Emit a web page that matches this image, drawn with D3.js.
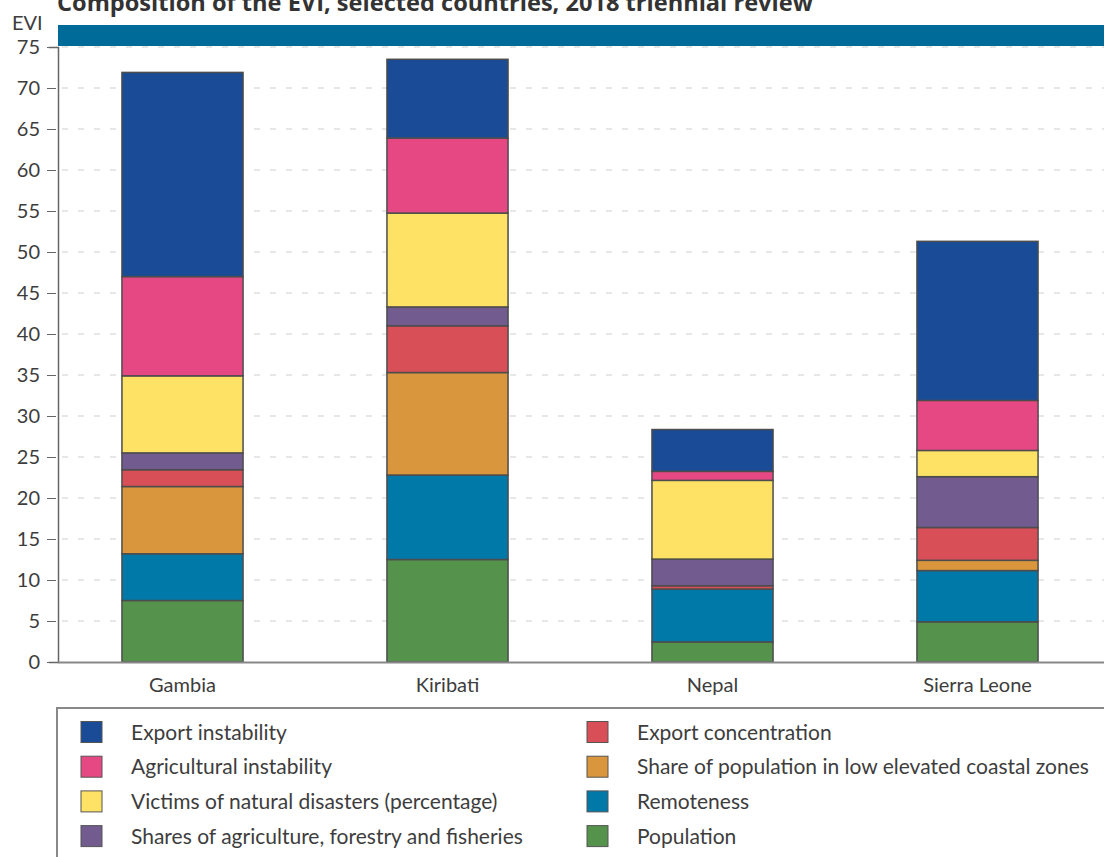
<!DOCTYPE html>
<html lang="en">
<head>
    <style>
        body { margin: 0; background: #fff; }
        svg { width: 1104px; height: 857px; display: block; }
        text { font-family: Lato, "Noto Sans", sans-serif; fill: #3d3d3d; }
    </style>
</head>
<body>
    <svg></svg>
    <script src="https://cdn.jsdelivr.net/npm/d3@7"></script>
    <script>
        // Data
        const countries = ["Gambia", "Kiribati", "Nepal", "Sierra Leone"];
        const components = ["Population", "Remoteness", "Share of population in low elevated coastal zones",
            "Export concentration", "Shares of agriculture, forestry and fisheries",
            "Victims of natural disasters (percentage)", "Agricultural instability", "Export instability"];
        const population     = [7.5, 12.5, 2.45, 4.9];
        const remoteness     = [5.7, 10.3, 6.45, 6.25];
        const coastal        = [8.2, 12.5, 0, 1.25];
        const exportConc     = [2.05, 5.7, 0.4, 4.0];
        const agriShare      = [2.05, 2.3, 3.25, 6.2];
        const victims        = [9.4, 11.45, 9.6, 3.2];
        const agriInstab     = [12.1, 9.15, 1.1, 6.1];
        const exportInstab   = [24.9, 9.6, 5.1, 19.4];
        const yTicks = [0, 5, 10, 15, 20, 25, 30, 35, 40, 45, 50, 55, 60, 65, 70, 75];

        const seriesValues = [population, remoteness, coastal, exportConc, agriShare, victims, agriInstab, exportInstab];
        const colors = ["#55934d", "#0079a9", "#d9963c", "#d94f57", "#715b8f", "#fee265", "#e64884", "#1a4b96"];

        // table for d3.stack
        const table = countries.map((c, i) => {
            const row = { country: c };
            components.forEach((k, j) => { row[k] = seriesValues[j][i]; });
            return row;
        });

        const svg = d3.select("svg");

        const x = d3.scaleBand().domain(countries).range([50, 1110]).paddingInner(0.543).paddingOuter(0.2715);
        const y = d3.scaleLinear().domain([0, 75]).range([662, 47]);

        // Title (cut at the top, as in the source)
        svg.append("text")
            .attr("x", 57).attr("y", 11)
            .style("font-family", "'Open Sans', sans-serif")
            .style("font-weight", "bold").style("font-size", "23.6px").style("fill", "#333")
            .text("Composition of the EVI, selected countries, 2018 triennial review");

        // Header band
        svg.append("rect").attr("x", 58).attr("y", 25).attr("width", 1104 - 58).attr("height", 21)
            .attr("fill", "#006b98");

        // Grid lines
        svg.append("g").selectAll("line").data(yTicks.filter(d => d > 0)).join("line")
            .attr("x1", 62).attr("x2", 1104)
            .attr("y1", d => y(d)).attr("y2", d => y(d))
            .attr("stroke", "#cfcfcf").attr("stroke-width", 1)
            .attr("stroke-dasharray", "6,10");

        // Y axis
        const yAxis = svg.append("g")
            .attr("transform", "translate(58,0)")
            .call(d3.axisLeft(y).tickValues(yTicks).tickSize(9).tickPadding(9));
        yAxis.select(".domain").attr("stroke", "#666").attr("stroke-width", 1.5);
        yAxis.selectAll(".tick line").attr("stroke", "#666").attr("transform", "translate(-2,0)");
        yAxis.selectAll(".tick text").style("font-size", "20px").attr("fill", "#3d3d3d");

        svg.append("text").attr("x", 12).attr("y", 30).style("font-size", "20px").text("EVI");

        // Stacked bars
        const stacked = d3.stack().keys(components)(table);
        svg.append("g").selectAll("g").data(stacked).join("g")
            .attr("fill", (d, i) => colors[i])
            .selectAll("rect").data(d => d).join("rect")
            .attr("x", d => x(d.data.country))
            .attr("width", x.bandwidth())
            .attr("y", d => y(d[1]))
            .attr("height", d => y(d[0]) - y(d[1]))
            .attr("stroke", "#4d4d4d").attr("stroke-width", 1.5);

        // X axis baseline and labels
        svg.append("line").attr("x1", 58).attr("x2", 1104).attr("y1", 662.5).attr("y2", 662.5)
            .attr("stroke", "#888").attr("stroke-width", 2);
        svg.append("g").selectAll("text").data(countries).join("text")
            .attr("x", d => x(d) + x.bandwidth() / 2).attr("y", 692)
            .attr("text-anchor", "middle").style("font-size", "20px")
            .text(d => d);

        // Legend
        const legendOrder = [7, 3, 6, 2, 5, 1, 4, 0];
        svg.append("path").attr("d", "M57,857V708H1104").attr("fill", "none")
            .attr("stroke", "#888").attr("stroke-width", 2);
        const legend = svg.append("g").selectAll("g").data(legendOrder).join("g")
            .attr("transform", (d, i) => `translate(${i % 2 === 0 ? 81 : 587},${732 + Math.floor(i / 2) * 34.7})`);
        legend.append("rect").attr("x", 0).attr("y", -10.5).attr("width", 21).attr("height", 21)
            .attr("fill", d => colors[d]).attr("stroke", "#555").attr("stroke-width", 1);
        legend.append("text").attr("x", 50).attr("y", 7.5).style("font-size", "21px")
            .text(d => components[d]);
    </script>
</body>
</html>
